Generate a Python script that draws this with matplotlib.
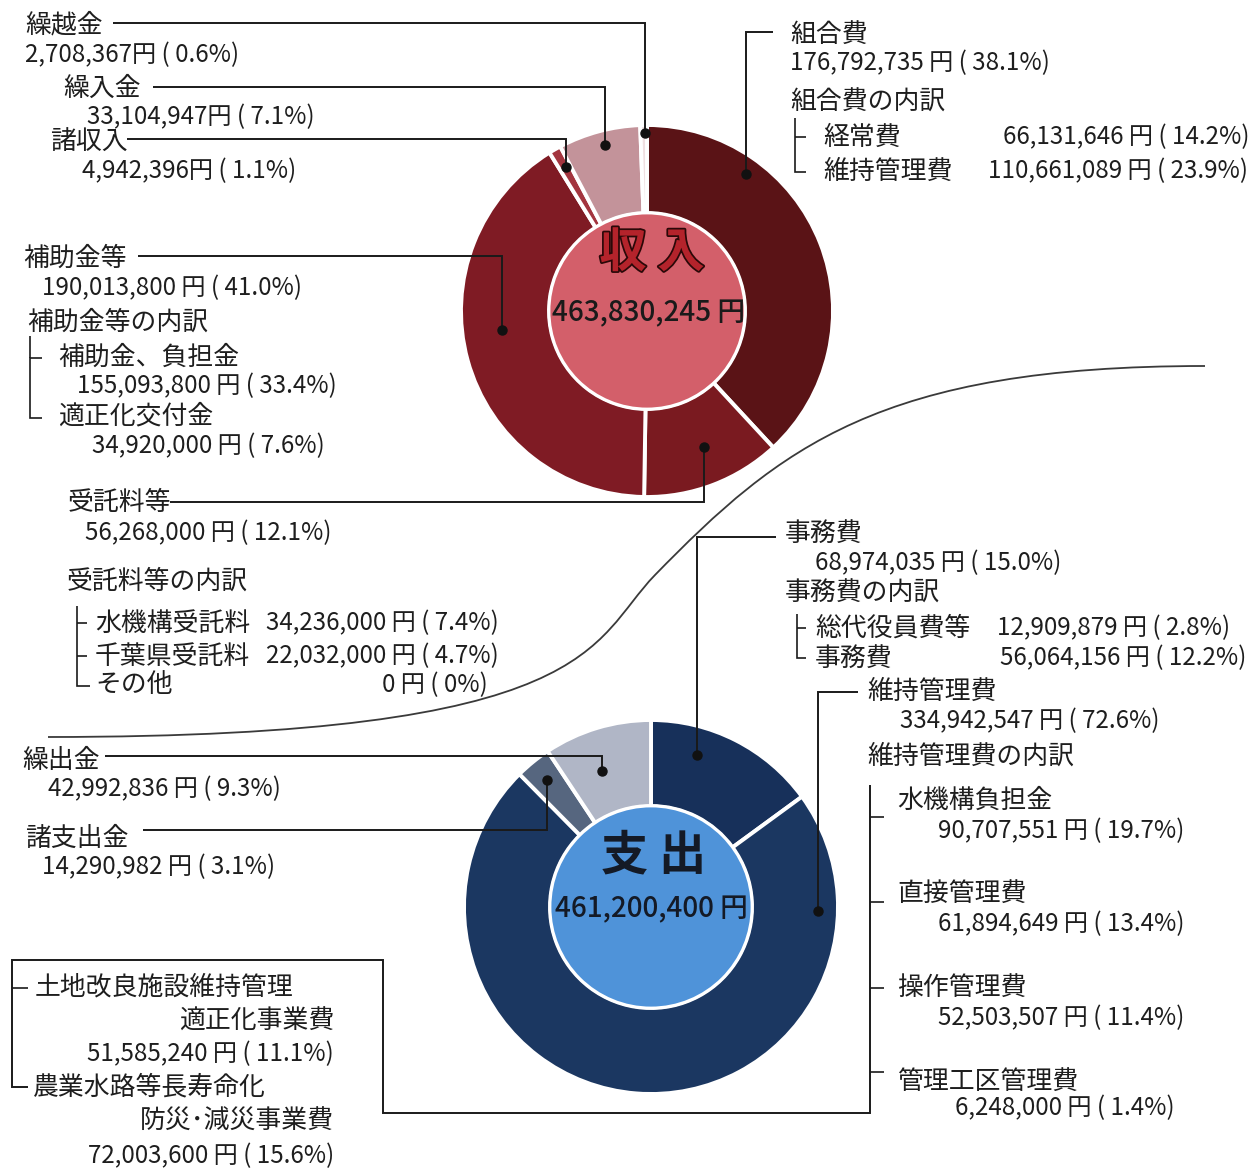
import matplotlib
matplotlib.use('Agg')
import matplotlib.pyplot as plt
from matplotlib.path import Path
from matplotlib.patches import PathPatch, Circle
import matplotlib.patheffects as pe

W, H = 1256, 1168
plt.rcParams['font.family'] = ['Noto Sans CJK JP', 'DejaVu Sans']

# ---------------- data ----------------
income_labels = ['組合費', '受託料等', '補助金等', '諸収入', '繰入金', '繰越金']
income_amounts = [176792735, 56268000, 190013800, 4942396, 33104947, 2708367]
income_pcts = [38.1, 12.1, 41.0, 1.1, 7.1, 0.6]
income_total = 463830245

expense_labels = ['事務費', '維持管理費', '諸支出金', '繰出金']
expense_amounts = [68974035, 334942547, 14290982, 42992836]
expense_pcts = [15.0, 72.6, 3.1, 9.3]
expense_total = 461200400

kumiai_sub_labels = ['経常費', '維持管理費']
kumiai_sub_amounts = [66131646, 110661089]
kumiai_sub_pcts = [14.2, 23.9]

hojo_sub_labels = ['補助金、負担金', '適正化交付金']
hojo_sub_amounts = [155093800, 34920000]
hojo_sub_pcts = [33.4, 7.6]

itaku_sub_labels = ['水機構受託料', '千葉県受託料', 'その他']
itaku_sub_amounts = [34236000, 22032000, 0]
itaku_sub_pcts = [7.4, 4.7, 0]

jimu_sub_labels = ['総代役員費等', '事務費']
jimu_sub_amounts = [12909879, 56064156]
jimu_sub_pcts = [2.8, 12.2]

iji_sub_labels = ['水機構負担金', '直接管理費', '操作管理費', '管理工区管理費']
iji_sub_amounts = [90707551, 61894649, 52503507, 6248000]
iji_sub_pcts = [19.7, 13.4, 11.4, 1.4]

iji_box_labels = [('土地改良施設維持管理', '適正化事業費'), ('農業水路等長寿命化', '防災･減災事業費')]
iji_box_amounts = [51585240, 72003600]
iji_box_pcts = [11.1, 15.6]

income_colors = ['#5a1316', '#7a1a20', '#7f1b24', '#a3353f', '#c3939a', '#efdfe1']
expense_colors = ['#17305a', '#1b3761', '#56667f', '#b0b6c6']

# ---------------- helpers ----------------
fig = plt.figure(figsize=(W / 100, H / 100), dpi=100)
ax = fig.add_axes([0, 0, 1, 1])

TXT = '#1e1e1e'
FS = 17.4   # amounts
FSJ = 18.6  # japanese labels


def Y(y):
    return H - y


def pct(p):
    return '0%' if p == 0 else f'{p:.1f}%'


def amt(a, p, sp=' '):
    return f'{a:,}{sp}円 ( {pct(p)})'


def txt(x, y, s, ha='left', fs=FS, **kw):
    ax.text(x, Y(y), s, ha=ha, va='center', fontsize=fs, color=kw.pop('color', TXT), **kw)


def lab(x, y, s, ha='left'):
    txt(x, y, s, ha=ha, fs=FSJ)


def line(pts, lw=1.4, color='#1a1a1a', z=5):
    ax.plot([p[0] for p in pts], [Y(p[1]) for p in pts], color=color, lw=lw,
            solid_capstyle='butt', solid_joinstyle='miter', zorder=z)


def dot(x, y):
    ax.plot([x], [Y(y)], 'o', color='#111111', ms=6.5, zorder=6)


# ---------------- S curve ----------------
verts = [(48, 737), (600, 737), (590, 642), (655, 575),
         (780, 447), (880, 366), (1205, 366)]
verts = [(x, Y(y)) for x, y in verts]
codes = [Path.MOVETO] + [Path.CURVE4] * 6
ax.add_patch(PathPatch(Path(verts, codes), fc='none', ec='#3a3a3a', lw=1.3, zorder=1))

# ---------------- donuts ----------------
ic = (647, 311)
R1, r1 = 186, 98
ax.pie(income_amounts, colors=income_colors, startangle=90, counterclock=False,
       radius=R1, center=(ic[0], Y(ic[1])),
       wedgeprops=dict(width=R1 - r1, edgecolor='white', linewidth=2.8), frame=True)
ax.add_patch(Circle((ic[0], Y(ic[1])), r1, fc='#d35f6a', ec='white', lw=2.0, zorder=3))
ax.text(ic[0] + 5, Y(253), '収 入', ha='center', va='center', fontsize=34, fontweight='bold',
        color='#b4232b', zorder=4,
        path_effects=[pe.withStroke(linewidth=2.5, foreground='#2a0808')])
ax.text(ic[0] + 2, Y(313), f'{income_total:,} 円', ha='center', va='center', fontsize=20,
        fontweight='medium', color='#1a1a1a', zorder=4)

ec = (651, 907)
R2, r2 = 187, 101
ax.pie(expense_amounts, colors=expense_colors, startangle=90, counterclock=False,
       radius=R2, center=(ec[0], Y(ec[1])),
       wedgeprops=dict(width=R2 - r2, edgecolor='white', linewidth=2.8), frame=True)
ax.add_patch(Circle((ec[0], Y(ec[1])), r2, fc='#4f93d9', ec='white', lw=2.0, zorder=3))
ax.text(ec[0] + 3, Y(855), '支 出', ha='center', va='center', fontsize=34, fontweight='bold',
        color='#141a26', zorder=4)
ax.text(ec[0], Y(909), f'{expense_total:,} 円', ha='center', va='center', fontsize=20,
        fontweight='medium', color='#141a26', zorder=4)

# ---------------- income annotations ----------------
# 繰越金
lab(25, 25, income_labels[5])
txt(25, 55, amt(income_amounts[5], income_pcts[5], ''))
line([(113, 23), (645, 23), (645, 133)])
dot(645, 133)
# 繰入金
lab(63, 88, income_labels[4])
txt(87, 117, amt(income_amounts[4], income_pcts[4], ''))
line([(153, 87), (605, 87), (605, 145)])
dot(605, 145)
# 諸収入
lab(50, 142, income_labels[3])
txt(82, 171, amt(income_amounts[3], income_pcts[3], ''))
line([(127, 139), (566, 139), (566, 167)])
dot(566, 167)
# 補助金等
lab(23, 258, income_labels[2])
txt(42, 288, amt(income_amounts[2], income_pcts[2]))
line([(138, 256), (502, 256), (502, 330)])
dot(502, 330)
lab(27, 322, income_labels[2] + 'の内訳')
line([(42, 358), (30, 358), (30, 418), (42, 418)], lw=1.2)
line([(30, 336), (30, 358)], lw=1.2)
lab(58, 357, hojo_sub_labels[0])
txt(77, 386, amt(hojo_sub_amounts[0], hojo_sub_pcts[0]))
lab(58, 416, hojo_sub_labels[1])
txt(92, 446, amt(hojo_sub_amounts[1], hojo_sub_pcts[1]))
# 受託料等
lab(68, 503, income_labels[1])
txt(85, 533, amt(income_amounts[1], income_pcts[1]))
line([(170, 502), (704, 502), (704, 447)])
dot(704, 447)
lab(67, 581, income_labels[1] + 'の内訳')
line([(77, 606), (77, 686), (90, 686)], lw=1.2)
for yy in (623, 656):
    line([(77, yy), (87, yy)], lw=1.2)
for i, yy in enumerate((623, 656)):
    lab(95, yy, itaku_sub_labels[i])
    txt(266, yy, amt(itaku_sub_amounts[i], itaku_sub_pcts[i]))
lab(95, 685, itaku_sub_labels[2])
txt(488, 685, amt(itaku_sub_amounts[2], itaku_sub_pcts[2]), ha='right')
# 組合費
line([(773, 32), (746, 32), (746, 174)])
dot(746, 174)
lab(790, 34, income_labels[0])
txt(790, 63, amt(income_amounts[0], income_pcts[0]))
lab(790, 102, income_labels[0] + 'の内訳')
line([(795, 118), (795, 172), (806, 172)], lw=1.2)
line([(795, 137), (806, 137)], lw=1.2)
lab(823, 137, kumiai_sub_labels[0])
txt(1003, 137, amt(kumiai_sub_amounts[0], kumiai_sub_pcts[0]))
lab(823, 171, kumiai_sub_labels[1])
txt(988, 171, amt(kumiai_sub_amounts[1], kumiai_sub_pcts[1]))

# ---------------- expense annotations ----------------
# 事務費
line([(776, 537), (697, 537), (697, 755)])
dot(697, 755)
lab(785, 533, expense_labels[0])
txt(815, 563, amt(expense_amounts[0], expense_pcts[0]))
lab(785, 593, expense_labels[0] + 'の内訳')
line([(797, 614), (797, 658), (806, 658)], lw=1.2)
line([(797, 628), (806, 628)], lw=1.2)
lab(815, 628, jimu_sub_labels[0])
txt(997, 628, amt(jimu_sub_amounts[0], jimu_sub_pcts[0]))
lab(815, 658, jimu_sub_labels[1])
txt(1000, 658, amt(jimu_sub_amounts[1], jimu_sub_pcts[1]))
# 維持管理費
line([(858, 692), (818, 692), (818, 911)])
dot(818, 911)
lab(867, 691, expense_labels[1])
txt(900, 721, amt(expense_amounts[1], expense_pcts[1]))
lab(867, 756, expense_labels[1] + 'の内訳')
line([(870, 785), (870, 1113), (383, 1113), (383, 960), (12, 960), (12, 1087), (28, 1087)], lw=1.4)
for yy in (817, 902, 988, 1072):
    line([(870, yy), (884, yy)], lw=1.2)
line([(12, 988), (28, 988)], lw=1.2)
sub_y = [(800, 831), (893, 924), (987, 1018), (1081, 1108)]
sub_x = [938, 938, 938, 955]
for i, (ya, yb) in enumerate(sub_y):
    lab(897, ya, iji_sub_labels[i])
    txt(sub_x[i], yb, amt(iji_sub_amounts[i], iji_sub_pcts[i]))
box_y = [(987, 1021, 1054), (1087, 1121, 1156)]
box_x = [35, 33]
for i, (ya, yb, yc) in enumerate(box_y):
    lab(box_x[i], ya, iji_box_labels[i][0])
    lab(334, yb, iji_box_labels[i][1], ha='right')
    txt(334, yc, amt(iji_box_amounts[i], iji_box_pcts[i]), ha='right')
# 繰出金
lab(22, 760, expense_labels[3])
txt(48, 789, amt(expense_amounts[3], expense_pcts[3]))
line([(105, 756), (602, 756), (602, 771)])
dot(602, 771)
# 諸支出金
lab(25, 838, expense_labels[2])
txt(42, 867, amt(expense_amounts[2], expense_pcts[2]))
line([(143, 830), (547, 830), (547, 780)])
dot(547, 780)

ax.set_xlim(0, W)
ax.set_ylim(0, H)
ax.set_aspect('auto')
ax.axis('off')
fig.savefig('out.png', dpi=100, facecolor='white')
